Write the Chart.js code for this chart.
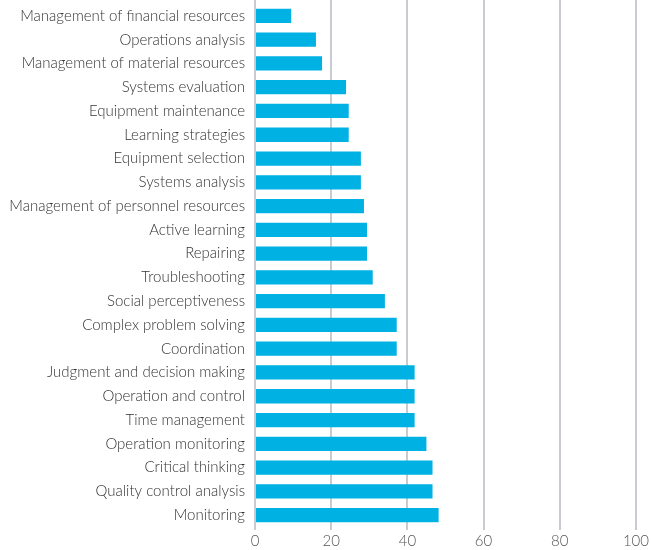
<!DOCTYPE html>
<html><head><meta charset="utf-8">
<script src="https://cdn.jsdelivr.net/npm/chart.js@4"></script>
<style>html,body{margin:0;padding:0;background:#fff}#wrap{width:651px;height:550px;position:relative}</style>
</head><body><div id="wrap"><canvas id="c"></canvas></div>
<script>
const categories = ["Management of financial resources","Operations analysis","Management of material resources","Systems evaluation","Equipment maintenance","Learning strategies","Equipment selection","Systems analysis","Management of personnel resources","Active learning","Repairing","Troubleshooting","Social perceptiveness","Complex problem solving","Coordination","Judgment and decision making","Operation and control","Time management","Operation monitoring","Critical thinking","Quality control analysis","Monitoring"];
const values = [9.5,16.0,17.6,23.9,24.6,24.6,27.8,27.8,28.6,29.4,29.4,30.9,34.1,37.2,37.2,41.9,41.9,41.9,45.0,46.6,46.6,48.2];
const xTicks = [0,20,40,60,80,100];

const gridTop = {
  id: 'gridTop',
  beforeDatasetsDraw(chart) {
    const { ctx, chartArea, scales: { x } } = chart;
    ctx.save();
    ctx.strokeStyle = '#c8ccd1'; ctx.lineWidth = 2;
    xTicks.forEach(v => {
      const px = Math.round(x.getPixelForValue(v));
      ctx.beginPath(); ctx.moveTo(px, 0); ctx.lineTo(px, chartArea.top + 1); ctx.stroke();
    });
    ctx.restore();
  }
};

new Chart(document.getElementById('c'), {
  type: 'bar',
  data: { labels: categories, datasets: [{ data: values, backgroundColor: '#00b2e3', barPercentage: 0.6, categoryPercentage: 1.0 }] },
  options: {
    indexAxis: 'y', responsive: true, maintainAspectRatio: false, animation: false,
    layout: { padding: { top: 4, right: 11, left: 0, bottom: 0 } },
    plugins: { legend: { display: false }, tooltip: { enabled: false } },
    scales: {
      x: { min: 0, max: 100,
        afterBuildTicks: s => { s.ticks = xTicks.map(v => ({ value: v })); },
        afterFit: s => { s.height = 23; s.paddingTop = 0; s.paddingBottom = 0; },
        grid: { color: '#c8ccd1', lineWidth: 2, tickLength: 3 },
        border: { display: false },
        ticks: { color: '#555', font: { family: 'Lato', size: 15, weight: 300 }, padding: 2 } },
      y: { grid: { display: false, drawTicks: false }, border: { display: false },
        afterFit: s => { s.width = 255; s.paddingTop = 0; s.paddingBottom = 0; },
        ticks: { color: '#333', font: { family: 'Lato', size: 15, weight: 300 }, padding: 10, autoSkip: false } }
    }
  },
  plugins: [gridTop]
});
</script></body></html>
